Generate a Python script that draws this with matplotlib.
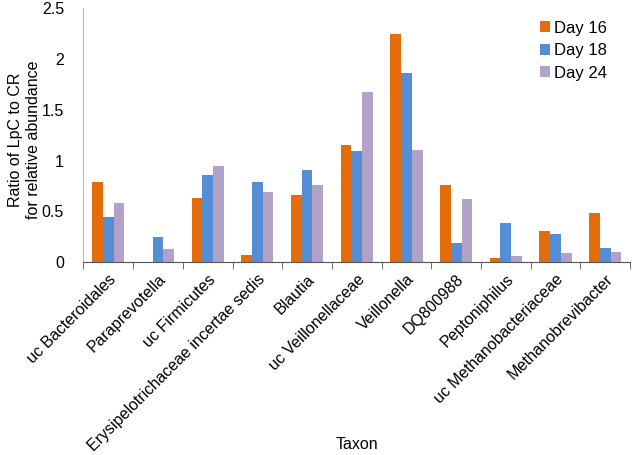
import numpy as np
import matplotlib.pyplot as plt
from matplotlib.ticker import FixedLocator

plt.rcParams['font.family'] = ['Liberation Sans', 'DejaVu Sans']

# Taxa and ratio values
taxa = ["uc Bacteroidales", "Paraprevotella", "uc Firmicutes",
        "Erysipelotrichaceae incertae sedis", "Blautia", "uc Veillonellaceae",
        "Veillonella", "DQ800988", "Peptoniphilus", "uc Methanobacteriaceae",
        "Methanobrevibacter"]
day16 = [0.79, 0.0, 0.63, 0.07, 0.66, 1.15, 2.25, 0.76, 0.04, 0.31, 0.48]
day18 = [0.44, 0.25, 0.86, 0.79, 0.91, 1.09, 1.86, 0.19, 0.38, 0.28, 0.14]
day24 = [0.58, 0.13, 0.95, 0.69, 0.76, 1.67, 1.10, 0.62, 0.06, 0.09, 0.10]

fig = plt.figure(figsize=(6.32, 4.55), dpi=100)
ax = fig.add_axes([0.132, 0.424, 0.865, 0.558])

x = np.arange(len(taxa))
w = 0.216
ax.bar(x - w, day16, w, color="#E46C0A", label="Day 16")
ax.bar(x, day18, w, color="#558ED5", label="Day 18")
ax.bar(x + w, day24, w, color="#B3A2C7", label="Day 24")

ax.set_xlim(-0.5, len(taxa) - 0.5)
ax.set_ylim(0, 2.5)
ax.set_yticks([0, 0.5, 1, 1.5, 2, 2.5])
ax.set_yticklabels(["0", "0.5", "1", "1.5", "2", "2.5"], fontsize=11.5)
ax.tick_params(axis='y', length=0, pad=14)

ax.set_xticks(x)
ax.set_xticklabels(taxa, rotation=45, ha='right', rotation_mode='anchor', fontsize=11.5)
ax.tick_params(axis='x', which='major', length=0, pad=7)
ax.xaxis.set_minor_locator(FixedLocator(np.arange(-0.5, len(taxa), 1)))
ax.tick_params(axis='x', which='minor', length=5, color='#555555')

for s in ['top', 'right']:
    ax.spines[s].set_visible(False)
ax.spines['left'].set_color('#BBBBBB')
ax.spines['bottom'].set_color('#555555')

ax.set_ylabel("Ratio of LpC to CR\nfor relative abundance", fontsize=11.5)
ax.yaxis.set_label_coords(-0.078, 0.48)
ax.set_xlabel("Taxon", fontsize=11.5)
ax.xaxis.set_label_coords(0.5, -0.69)

ax.legend(loc='upper right', bbox_to_anchor=(0.985, 1.01), frameon=False, fontsize=12,
          handlelength=0.6, handleheight=0.6, handletextpad=0.25, labelspacing=0.45)

fig.savefig("out.png", dpi=100)
